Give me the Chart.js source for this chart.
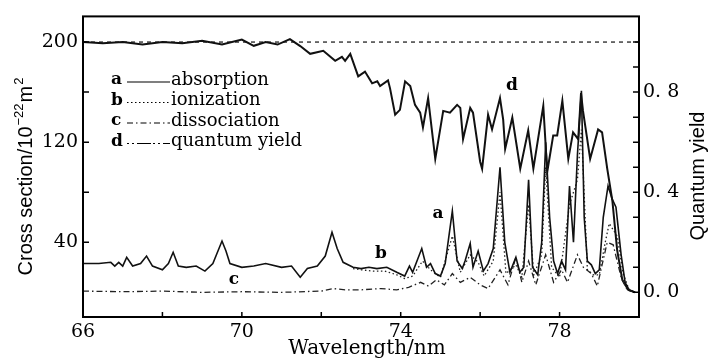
<!DOCTYPE html>
<html>
<head>
<meta charset="utf-8">
<script src="https://cdn.jsdelivr.net/npm/chart.js@4.4.1/dist/chart.umd.min.js"></script>
<style>
  html, body { margin: 0; padding: 0; background: #fff; }
</style>
</head>
<body>
<canvas id="myChart" width="709" height="360"></canvas>
<script>
      // a - absorption cross section (10^-22 m^2)
      var absWl = [66.0, 66.4, 66.7, 66.8, 66.9, 67.0, 67.1, 67.25, 67.45, 67.6,
                   67.75, 68.0, 68.15, 68.27, 68.4, 68.6, 68.85, 69.07, 69.27, 69.5,
                   69.6, 69.7, 70.0, 70.3, 70.6, 71.0, 71.25, 71.47, 71.65, 71.9,
                   72.1, 72.27, 72.4, 72.55, 72.8, 73.0, 73.2, 73.4, 73.65, 73.9,
                   74.1, 74.22, 74.3, 74.53, 74.65, 74.75, 74.87, 75.0, 75.12, 75.3,
                   75.42, 75.55, 75.62, 75.75, 75.82, 75.95, 76.08, 76.2, 76.33, 76.5,
                   76.62, 76.75, 76.9, 77.0, 77.1, 77.22, 77.32, 77.45, 77.55, 77.65,
                   77.75, 77.85, 77.95, 78.05, 78.15, 78.25, 78.35, 78.45, 78.55, 78.62,
                   78.7, 78.8, 78.9, 79.0, 79.1, 79.22, 79.32, 79.42, 79.55, 79.65,
                   79.75, 79.9];
      var absVal = [23, 23, 24, 21, 24, 21, 28, 21, 23, 29,
                    21, 18, 23, 32, 21, 20, 21, 17, 23, 41,
                    33, 23, 20, 21, 23, 20, 21, 12, 19, 21,
                    29, 48, 35, 24, 20, 19, 20, 19, 20, 16,
                    13, 21, 16, 35, 20, 23, 15, 13, 23, 65,
                    25, 19, 25, 39, 20, 33, 17, 23, 35, 100,
                    40, 16, 28, 16, 20, 90, 20, 14, 40, 120,
                    60, 25, 15, 25, 18, 85, 40, 110, 161, 60,
                    25, 22, 15, 18, 60, 85, 75, 68, 30, 8,
                    2, 0];

      // b - ionization
      var ionWl = [72.8, 73.0, 73.3, 73.6, 73.9, 74.1, 74.3, 74.55, 74.75, 75.0,
                   75.3, 75.5, 75.75, 75.95, 76.1, 76.33, 76.5, 76.65, 76.9, 77.05,
                   77.22, 77.35, 77.55, 77.65, 77.8, 78.0, 78.25, 78.45, 78.55, 78.7,
                   78.85, 79.0, 79.15, 79.25, 79.45, 79.6, 79.75, 79.9];
      var ionVal = [19, 18, 17, 17, 14, 11, 13, 25, 18, 12,
                    45, 16, 30, 24, 13, 25, 80, 15, 22, 12,
                    70, 14, 30, 100, 20, 12, 70, 90, 130, 18,
                    14, 14, 40, 55, 45, 15, 2, 0];

      // c - dissociation
      var disWl = [66.0, 67.0, 68.0, 69.0, 70.0, 71.0, 72.0, 72.3, 72.6, 73.0,
                   73.5, 73.9, 74.2, 74.5, 74.7, 74.9, 75.1, 75.3, 75.5, 75.75,
                   76.0, 76.2, 76.5, 76.7, 76.9, 77.05, 77.22, 77.4, 77.65, 77.85,
                   78.05, 78.2, 78.45, 78.6, 78.8, 78.95, 79.2, 79.35, 79.55, 79.7,
                   79.9];
      var disVal = [1, 0.5, 1, 0, 0.5, 0, 1, 3, 2, 2,
                    3, 2, 4, 8, 5, 10, 6, 15, 8, 12,
                    6, 3, 18, 6, 28, 8, 25, 6, 30, 8,
                    18, 8, 30, 20, 15, 5, 40, 38, 12, 2,
                    0];

      // d - quantum yield (right axis)
      var qyWl = [66.0, 66.5, 67.0, 67.5, 68.0, 68.5, 69.0, 69.5, 70.0, 70.3,
                  70.6, 70.9, 71.21, 71.47, 71.72, 72.05, 72.35, 72.52, 72.6, 72.73,
                  72.93, 73.1, 73.28, 73.41, 73.48, 73.68, 73.73, 73.86, 73.98, 74.11,
                  74.24, 74.36, 74.49, 74.56, 74.69, 74.87, 75.07, 75.24, 75.42, 75.5,
                  75.57, 75.75, 75.82, 76.0, 76.05, 76.2, 76.3, 76.5, 76.58, 76.63,
                  76.81, 77.01, 77.21, 77.34, 77.59, 77.69, 77.84, 77.94, 78.07, 78.22,
                  78.34, 78.47, 78.54, 78.59, 78.77, 78.97, 79.07, 79.2, 79.33, 79.45,
                  79.58, 79.73, 79.9];
      var qyVal = [1.0, 0.995, 1.0, 0.99, 1.0, 0.995, 1.005, 0.99, 1.01, 0.985,
                   1.0, 0.99, 1.012, 0.984, 0.953, 0.965, 0.925, 0.941, 0.925, 0.953,
                   0.863, 0.882, 0.835, 0.843, 0.824, 0.847, 0.816, 0.71, 0.729, 0.843,
                   0.824, 0.749, 0.718, 0.659, 0.776, 0.533, 0.725, 0.718, 0.749, 0.737,
                   0.612, 0.737, 0.718, 0.522, 0.494, 0.71, 0.651, 0.776, 0.69, 0.573,
                   0.698, 0.494, 0.647, 0.494, 0.745, 0.482, 0.627, 0.627, 0.765, 0.533,
                   0.639, 0.612, 0.796, 0.725, 0.533, 0.651, 0.639, 0.494, 0.365, 0.169,
                   0.05, 0.01, 0.0];

      // quantum yield = 1 reference line
      var unityWl = [66, 80];
      var unityVal = [1, 1];

      // ticks
      var xTickVals = [66, 68, 70, 72, 74, 76, 78, 80];
      var xLabelVals = [66, 70, 74, 78];
      var yTickVals = [40, 80, 120, 160, 200];
      var yLabelVals = [40, 120, 200];
      var y2TickVals = [0, 0.1, 0.2, 0.3, 0.4, 0.5, 0.6, 0.7, 0.8, 0.9, 1.0];
      var y2LabelVals = [0, 0.4, 0.8];

      var curveLabels = [
        { text: 'a', x: 74.94, y: 63 },
        { text: 'b', x: 73.5, y: 31 },
        { text: 'c', x: 69.8, y: 10 },
        { text: 'd', x: 76.8, y: 165 }
      ];

      function pts(xs, ys) {
        return xs.map(function (x, i) { return { x: x, y: ys[i] }; });
      }

      var decor = {
        id: 'decor',
        afterDatasetsDraw: function (chart) {
          var ctx = chart.ctx, a = chart.chartArea;
          var sx = chart.scales.x, sy = chart.scales.y, sy2 = chart.scales.y2;
          ctx.save();
          ctx.strokeStyle = '#000';
          ctx.lineWidth = 2;
          ctx.strokeRect(a.left, a.top, a.right - a.left, a.bottom - a.top);
          // inward tick marks
          ctx.lineWidth = 1.5;
          ctx.beginPath();
          sx.ticks.forEach(function (t) {
            var p = sx.getPixelForValue(t.value);
            ctx.moveTo(p, a.bottom); ctx.lineTo(p, a.bottom - 5);
          });
          sy.ticks.forEach(function (t) {
            var p = sy.getPixelForValue(t.value);
            ctx.moveTo(a.left, p); ctx.lineTo(a.left + 6, p);
          });
          sy2.ticks.forEach(function (t) {
            var p = sy2.getPixelForValue(t.value);
            ctx.moveTo(a.right, p); ctx.lineTo(a.right - 6, p);
          });
          ctx.stroke();

          // legend
          ctx.fillStyle = '#000';
          ctx.textBaseline = 'middle';
          var row = 0;
          chart.data.datasets.forEach(function (ds) {
            if (!ds.legendKey) return;
            var yy = 80 + row * 20.5;
            ctx.font = 'bold 17px "DejaVu Serif"';
            ctx.textAlign = 'left';
            ctx.fillText(ds.legendKey, 111, yy);
            ctx.setLineDash(ds.legendDash || ds.borderDash || []);
            ctx.lineWidth = 1.2;
            ctx.beginPath();
            ctx.moveTo(127, yy + 2); ctx.lineTo(170, yy + 2);
            ctx.stroke();
            ctx.setLineDash([]);
            ctx.font = '18px "DejaVu Serif"';
            ctx.fillText(ds.label, 171, yy);
            row++;
          });

          // curve letters
          ctx.font = 'bold 17px "DejaVu Serif"';
          ctx.textAlign = 'center';
          curveLabels.forEach(function (l) {
            ctx.fillText(l.text, sx.getPixelForValue(l.x), sy.getPixelForValue(l.y));
          });

          // axis titles
          ctx.textBaseline = 'alphabetic';
          ctx.font = '20px "DejaVu Serif"';
          ctx.fillText('Wavelength/nm', 367, 354);

          ctx.save();
          ctx.translate(704, 176);
          ctx.rotate(-Math.PI / 2);
          ctx.font = '20px "Liberation Sans"';
          ctx.textAlign = 'center';
          ctx.fillText('Quantum yield', 0, 0);
          ctx.restore();

          ctx.save();
          ctx.translate(32, 176);
          ctx.rotate(-Math.PI / 2);
          ctx.textAlign = 'left';
          var parts = [
            { t: 'Cross section/10', f: '20px "Liberation Sans"', dy: 0 },
            { t: '\u221222', f: '13px "Liberation Sans"', dy: -9 },
            { t: 'm', f: '20px "Liberation Sans"', dy: 0 },
            { t: '2', f: '13px "Liberation Sans"', dy: -9 }
          ];
          var total = 0;
          parts.forEach(function (p) { ctx.font = p.f; p.w = ctx.measureText(p.t).width; total += p.w + 1; });
          var px = -total / 2;
          parts.forEach(function (p) { ctx.font = p.f; ctx.fillText(p.t, px, p.dy); px += p.w + 1; });
          ctx.restore();

          ctx.restore();
        }
      };

      var ctx = document.getElementById("myChart");
      var myChart = new Chart(ctx, {
          type: 'line',
          data: {
            datasets: [{
              label: 'absorption',
              legendKey: 'a',
              data: pts(absWl, absVal),
              yAxisID: 'y',
              borderColor: '#111',
              borderWidth: 1.6
            }, {
              label: 'ionization',
              legendKey: 'b',
              data: pts(ionWl, ionVal),
              yAxisID: 'y',
              borderColor: '#222',
              borderWidth: 1.3,
              borderDash: [1.5, 2.5]
            }, {
              label: 'dissociation',
              legendKey: 'c',
              data: pts(disWl, disVal),
              yAxisID: 'y',
              borderColor: '#222',
              borderWidth: 1.3,
              borderDash: [6, 3, 1.5, 3]
            }, {
              label: 'quantum yield',
              legendKey: 'd',
              legendDash: [2, 3, 2, 3, 14, 2],
              data: pts(qyWl, qyVal),
              yAxisID: 'y2',
              borderColor: '#111',
              borderWidth: 2
            }, {
              label: 'unity',
              data: pts(unityWl, unityVal),
              yAxisID: 'y2',
              borderColor: '#222',
              borderWidth: 1.3,
              borderDash: [4, 4]
            }]
          },
          options: {
            responsive: false,
            animation: false,
            elements: {
              point: { radius: 0 },
              line: { tension: 0, fill: false }
            },
            layout: {
              padding: { top: 12, left: 0, right: 0, bottom: 0 }
            },
            plugins: {
              legend: { display: false },
              tooltip: { enabled: false }
            },
            scales: {
              x: {
                type: 'linear',
                min: 66,
                max: 80,
                afterBuildTicks: function (s) { s.ticks = xTickVals.map(function (v) { return { value: v }; }); },
                afterFit: function (s) { s.height = 43; },
                grid: { display: false, drawTicks: false },
                border: { display: false },
                ticks: {
                  autoSkip: false,
                  maxRotation: 0,
                  padding: 4,
                  color: '#000',
                  font: { family: 'DejaVu Serif', size: 19 },
                  callback: function (v) { return xLabelVals.indexOf(v) >= 0 ? String(v) : ''; }
                }
              },
              y: {
                position: 'left',
                min: -19.7,
                max: 220.5,
                afterBuildTicks: function (s) { s.ticks = yTickVals.map(function (v) { return { value: v }; }); },
                afterFit: function (s) { s.width = 83; },
                grid: { display: false, drawTicks: false },
                border: { display: false },
                ticks: {
                  autoSkip: false,
                  padding: 5,
                  color: '#000',
                  font: { family: 'DejaVu Serif', size: 19 },
                  callback: function (v) { return yLabelVals.indexOf(v) >= 0 ? String(v) : ''; }
                }
              },
              y2: {
                position: 'right',
                min: -0.0985,
                max: 1.1025,
                afterBuildTicks: function (s) { s.ticks = y2TickVals.map(function (v) { return { value: v }; }); },
                afterFit: function (s) { s.width = 70; },
                grid: { display: false, drawTicks: false },
                border: { display: false },
                ticks: {
                  autoSkip: false,
                  padding: 4,
                  color: '#000',
                  font: { family: 'DejaVu Serif', size: 19 },
                  callback: function (v) {
                    var r = Math.round(v * 10) / 10;
                    return y2LabelVals.indexOf(r) >= 0 ? r.toFixed(1).replace('.', '. ') : '';
                  }
                }
              }
            }
          },
          plugins: [decor]
      });
</script>
</body>
</html>
